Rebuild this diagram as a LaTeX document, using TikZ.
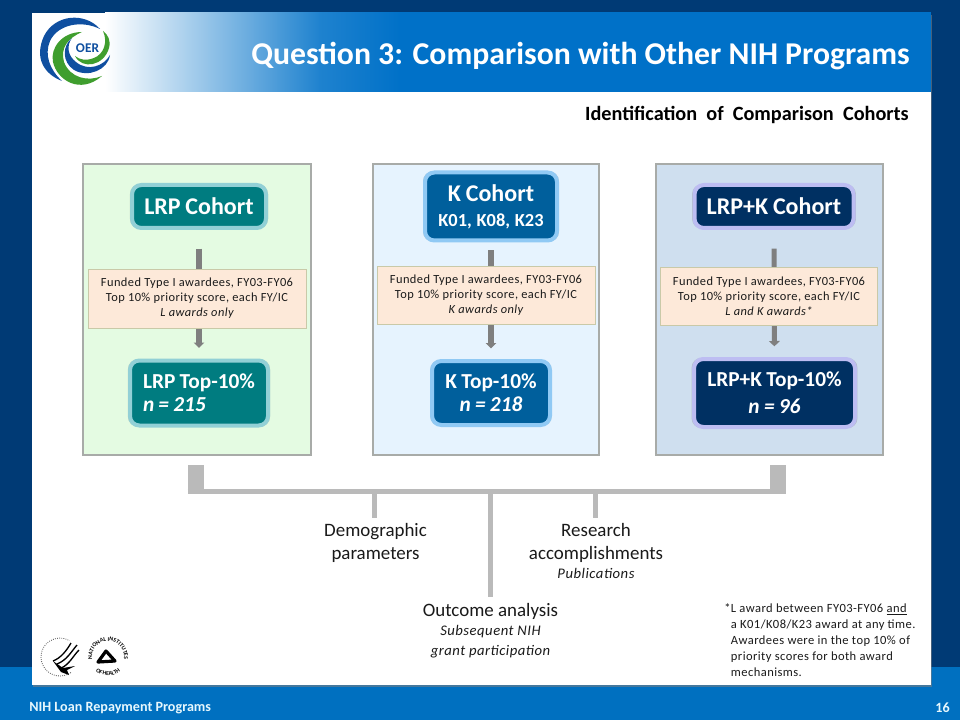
\documentclass[tikz,border=0pt]{standalone}
\usepackage{fontspec}
\setmainfont{Carlito}
\newfontfamily\spaced[LetterSpace=3.5]{Carlito}
\usetikzlibrary{shadows,decorations.text,calc,arrows.meta}
\definecolor{navybg}{HTML}{003A75}
\definecolor{bandblue}{HTML}{0070C0}
\definecolor{headblue}{HTML}{0071C8}
\definecolor{panelgrey}{HTML}{A8ABA8}
\definecolor{pgreen}{HTML}{E4FBE2}
\definecolor{pblue}{HTML}{E6F3FE}
\definecolor{psteel}{HTML}{CFDFEF}
\definecolor{teal1}{HTML}{007C80}
\definecolor{teal2}{HTML}{92D0D6}
\definecolor{kblue}{HTML}{005F9C}
\definecolor{kglow}{HTML}{90C9F4}
\definecolor{deepnavy}{HTML}{003062}
\definecolor{lilac}{HTML}{BDBDF2}
\definecolor{tan}{HTML}{FDE9D9}
\definecolor{tanline}{HTML}{C9C9A8}
\definecolor{arrowgrey}{HTML}{7F7F7F}
\definecolor{bargrey}{HTML}{BABABA}
\definecolor{logoblue}{HTML}{0F4FA0}
\definecolor{logogreen}{HTML}{3F9E2E}
\definecolor{ink}{HTML}{1A1A1A}
\newcommand{\subtext}{\fontsize{11}{14}\spaced\itshape}
\newcommand{\tight}{\spaceskip=.2em\relax}
\tikzset{
  sized/.style 2 args={minimum width=#1*0.75pt,minimum height=#2*0.75pt},
  panel/.style={draw=panelgrey,line width=1.1pt,inner sep=0pt},
  glowbox/.style={rounded corners=7pt,line width=3pt,inner sep=0pt,text=white,font=\fontsize{18}{20}\selectfont\bfseries\tight,align=center,
    drop shadow={shadow xshift=0pt,shadow yshift=0pt,shadow scale=1.03,opacity=.35}},
  tealbox/.style={glowbox,fill=teal1,draw=teal2},
  kbox/.style={glowbox,fill=kblue,draw=kglow},
  navybox/.style={glowbox,fill=deepnavy,draw=lilac},
  criteria/.style={fill=tan,draw=tanline,line width=.5pt,inner sep=0pt,align=center,text=ink,font=\fontsize{9.3}{11.2}\spaced},
  flow/.style={draw=arrowgrey,line width=3.8pt,-{Triangle[width=8pt,length=4pt]},shorten <=14pt,shorten >=8pt},
  barline/.style={draw=bargrey,line width=3.4pt},
  block/.style={fill=bargrey,inner sep=0pt},
  caption/.style={align=center,text=ink,inner sep=0pt,font=\fontsize{14.2}{17.2}\selectfont},
}
\begin{document}
\begin{tikzpicture}[x=0.75pt,y=-0.75pt]
\useasboundingbox (0,0) rectangle (960,720);
% background
\fill[navybg] (0,0) rectangle (960,720);
\fill[bandblue] (0,667) rectangle (960,720);
% slide
\fill[white,drop shadow={shadow xshift=1pt,shadow yshift=-1.5pt,opacity=.55}] (32,13) rectangle (931,685);
% header
\begin{scope}
\clip (32,13) rectangle (931,92);
\shade[left color=white,right color=headblue!88!white] (105,10) rectangle (320,95);
\shade[left color=headblue!88!white,right color=headblue] (319,10) rectangle (400,95);
\fill[headblue] (399,10) rectangle (931,95);
\end{scope}
\node[anchor=east,inner sep=0pt,text=white,font=\fontsize{23.8}{26}\selectfont\bfseries] (title) at (910,56.5) {Question 3: Comparison with Other NIH Programs};
% logo
\fill[logoblue] (100,29) .. controls (85,12) and (55,14) .. (44,36) .. controls (34,58) and (44,74) .. (62,81)
  .. controls (50,70) and (44,55) .. (50,41) .. controls (58,24) and (82,20) .. (100,29) -- cycle;
\fill[logogreen] (82,32) .. controls (62,32) and (50,48) .. (53,62) .. controls (57,80) and (80,95) .. (102,76)
  .. controls (88,82) and (70,78) .. (64,62) .. controls (60,48) and (68,38) .. (82,32) -- cycle;
\fill[logoblue] (72,38) .. controls (62,46) and (62,62) .. (74,70) .. controls (88,78) and (108,70) .. (110,55)
  .. controls (104,66) and (88,72) .. (76,62) .. controls (68,56) and (66,46) .. (72,38) -- cycle;
\fill[logogreen] (75,56) .. controls (82,70) and (104,66) .. (109,48) .. controls (111,40) and (108,35) .. (103,31)
  .. controls (108,42) and (104,54) .. (94,58) .. controls (86,61) and (80,60) .. (75,56) -- cycle;
\node[inner sep=0pt,text=logoblue,font=\fontsize{10}{10}\selectfont\bfseries] (oer) at (87.5,48) {OER};
% heading
\node[anchor=east,inner sep=0pt,text=black,font=\fontsize{15.2}{16}\selectfont\bfseries] (heading) at (909,115) {Identification\ \ of\ \ Comparison\ \ Cohorts};
% panels
\node[panel,fill=pgreen,sized={228}{291}] (p1) at (197,309.5) {};
\node[panel,fill=pblue,sized={226}{291}] (p2) at (486,309.5) {};
\node[panel,fill=psteel,sized={227}{291}] (p3) at (769.5,309.5) {};
% column 1
\node[tealbox,sized={134}{43}] (c1) at (199,206.5) {LRP Cohort};
\node[tealbox,sized={138}{65},align=left,font=\fontsize{16}{21}\selectfont\bfseries\tight] (t1) at (199,393) {LRP Top-10\%\\[-3.75pt]\itshape n = 215};
\draw[flow] (c1) -- (t1);
\node[criteria,sized={218}{59}] (f1) at (197,298.5) {Funded Type I awardees, FY03-FY06\\Top 10\% priority score, each FY/IC\\\itshape L awards only};
% column 2
\node[kbox,sized={132}{68},font=\fontsize{18}{17}\selectfont\bfseries\tight] (c2) at (491,206.5) {K Cohort\\[1.5pt]\fontsize{13.8}{15}\selectfont K01, K08, K23};
\node[kbox,sized={118}{64},font=\fontsize{16}{20}\selectfont\bfseries\tight] (t2) at (491,393) {K Top-10\%\\[-2.75pt]\itshape n = 218};
\draw[flow,shorten <=6pt] (c2) -- (t2);
\node[criteria,sized={218}{58}] (f2) at (486,295) {Funded Type I awardees, FY03-FY06\\Top 10\% priority score, each FY/IC\\\itshape K awards only};
% column 3
\node[navybox,sized={159}{43}] (c3) at (774,206.5) {LRP+K Cohort};
\node[navybox,sized={161}{68},font=\fontsize{16}{24}\selectfont\bfseries\tight] (t3) at (774.5,393) {LRP+K Top-10\%\\[-3.5pt]\itshape n = 96};
\draw[flow] (c3) -- (t3);
\node[criteria,sized={217}{58}] (f3) at (769,296) {Funded Type I awardees, FY03-FY06\\Top 10\% priority score, each FY/IC\\\itshape L and K awards*};
% bracket
\node[block,sized={16}{28}] (bl) at (196,479) {};
\node[block,sized={16}{28}] (br) at (778,479) {};
\coordinate (barL) at (bl.south west);
\coordinate (barR) at (br.south east);
\draw[barline] ($(barL)+(0,-2)$) -- ($(barR)+(0,-2)$);
\node[caption] (demo) at (375.5,543) {Demographic\\parameters};
\node[caption,anchor=north] (outcome) at (490.5,603) {Outcome analysis\\[-2.75pt]\subtext Subsequent NIH\\[-2pt]\subtext grant participation};
\node[caption,anchor=north] (research) at (596,523) {Research\\accomplishments\\[-2.75pt]\subtext Publications};
\coordinate (j1) at (374.5,491);
\coordinate (j2) at (490.5,491);
\coordinate (j3) at (595.5,491);
\coordinate (e1) at (374.5,518);
\coordinate (e2) at (490.5,597);
\coordinate (e3) at (595.5,518);
\draw[barline] (j1) -- (e1);
\draw[barline] (j2) -- (e2);
\draw[barline] (j3) -- (e3);
% footnote
\node[anchor=north west,inner sep=0pt,align=left,text=ink,font=\fontsize{9.4}{12}\spaced] (note) at (724,603) {*L award between FY03-FY06 \underline{and}\\\hspace*{5pt}a K01/K08/K23 award at any time.\\\hspace*{5pt}Awardees were in the top 10\% of\\\hspace*{5pt}priority scores for both award\\\hspace*{5pt}mechanisms.};
% HHS seal
\draw[black!70,line width=.6pt,densely dotted] (60,657) ++(55:19) arc[start angle=-55,end angle=-300,radius=14.25pt];
\draw[black,line width=1pt] (77,645) .. controls (71,652) and (67,660) .. (57,664);
\draw[black,line width=1pt] (79,650) .. controls (73,656) and (69,665) .. (61,668);
\draw[black,line width=1pt] (71,643) .. controls (67,650) and (61,658) .. (53,661);
\fill[black] (53,661) -- (63,668) -- (75,666) -- (67,670) -- (69,675) -- (61,672) -- cycle;
% NIH seal
\path[postaction={decorate,decoration={text along path,text align=center,text={|\fontsize{4.4}{5}\selectfont\bfseries|NATIONAL INSTITUTES}}}] (93,662.5) arc[start angle=200,end angle=-20,radius=12pt];
\path[postaction={decorate,decoration={text along path,text align=center,text={|\fontsize{4.4}{5}\selectfont\bfseries|OF HEALTH}}}] (94.8,670.2) arc[start angle=225,end angle=315,radius=14pt];
\draw[black,line width=2.4pt,line join=round] (98,662) -- (106,651) -- (115,661) -- cycle;
% footer
\node[anchor=west,inner sep=0pt,text=white!90!cyan,font=\fontsize{10.6}{12}\selectfont\bfseries] (foot) at (29,708) {NIH Loan Repayment Programs};
\node[anchor=east,inner sep=0pt,text=white!90!cyan,font=\fontsize{10.6}{12}\selectfont\bfseries] (page) at (950,708) {16};
\end{tikzpicture}
\end{document}
